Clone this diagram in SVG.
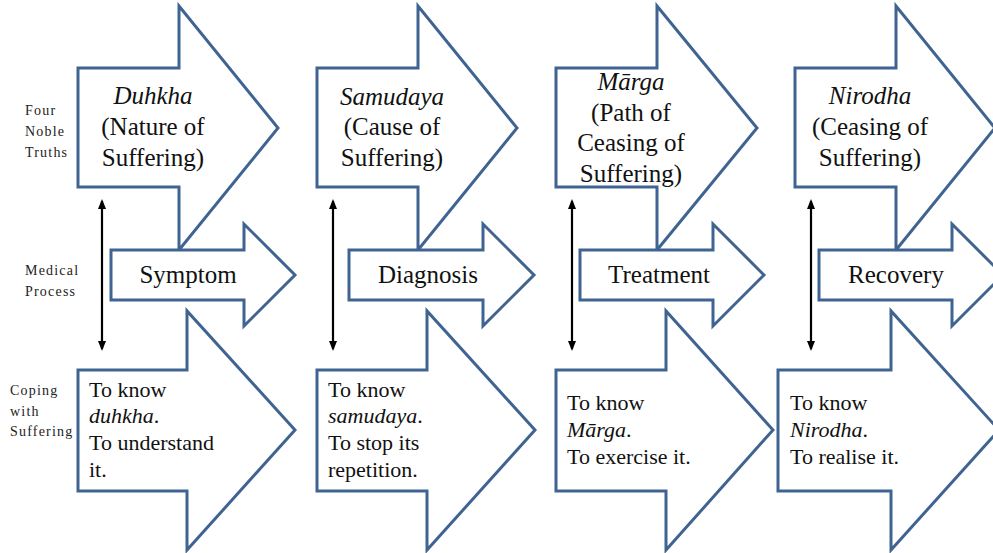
<svg xmlns="http://www.w3.org/2000/svg" width="993" height="553" viewBox="0 0 993 553">
  <style>
    .blk { fill: #ffffff; stroke: #406491; stroke-width: 3; stroke-linejoin: miter; }
    .lnk { stroke: #000000; stroke-width: 2.2; fill: none; }
    .t { font-family: "Liberation Serif", "Times New Roman", serif; fill: #111111; }
    .head { font-size: 25px; text-anchor: middle; }
    .med { font-size: 25px; text-anchor: middle; }
    .cope { font-size: 22px; }
    .side { font-size: 14px; letter-spacing: 1.2px; fill: #222222; }
    .it { font-style: italic; }
  </style>
  <defs>
    <marker id="tip" viewBox="0 0 10 8" refX="8" refY="4" markerWidth="10" markerHeight="8" markerUnits="userSpaceOnUse" orient="auto-start-reverse">
      <path d="M0,0 L10,4 L0,8 Z" fill="#000000"/>
    </marker>
  </defs>

  <!-- row captions -->
  <g id="row-labels" class="t side">
    <text x="25" y="115">Four</text>
    <text x="25" y="136">Noble</text>
    <text x="25" y="157">Truths</text>
    <text x="25" y="275">Medical</text>
    <text x="25" y="296">Process</text>
    <text x="10" y="395">Coping</text>
    <text x="10" y="416">with</text>
    <text x="10" y="436">Suffering</text>
  </g>

  <!-- column 1 -->
  <g id="truth-duhkha">
    <path class="blk" d="M78,68 H179 V6 L278,128 L179,250 V187 H78 Z"/>
    <text class="t head" x="153" y="104"><tspan class="it">Duhkha</tspan></text>
    <text class="t head" x="153" y="135">(Nature of</text>
    <text class="t head" x="153" y="166">Suffering)</text>
  </g>
  <g id="med-symptom">
    <path class="blk" d="M111,250 H244 V224 L295,275 L244,326 V300 H111 Z"/>
    <text class="t med" x="188" y="283">Symptom</text>
  </g>
  <g id="cope-duhkha">
    <path class="blk" d="M78,370 H187 V311 L295,430 L187,550 V491 H78 Z"/>
    <text class="t cope" x="89" y="397">To know</text>
    <text class="t cope" x="89" y="423"><tspan class="it">duhkha</tspan>.</text>
    <text class="t cope" x="89" y="450">To understand</text>
    <text class="t cope" x="89" y="477">it.</text>
  </g>

  <!-- column 2 -->
  <g id="truth-samudaya">
    <path class="blk" d="M317,68 H418 V6 L517,128 L418,250 V187 H317 Z"/>
    <text class="t head" x="392" y="105"><tspan class="it">Samudaya</tspan></text>
    <text class="t head" x="392" y="135">(Cause of</text>
    <text class="t head" x="392" y="166">Suffering)</text>
  </g>
  <g id="med-diagnosis">
    <path class="blk" d="M349,250 H483 V224 L534,275 L483,326 V300 H349 Z"/>
    <text class="t med" x="428" y="283">Diagnosis</text>
  </g>
  <g id="cope-samudaya">
    <path class="blk" d="M317,370 H427 V311 L535,430 L427,550 V491 H317 Z"/>
    <text class="t cope" x="328" y="397">To know</text>
    <text class="t cope" x="328" y="423"><tspan class="it">samudaya</tspan>.</text>
    <text class="t cope" x="328" y="450">To stop its</text>
    <text class="t cope" x="328" y="477">repetition.</text>
  </g>

  <!-- column 3 -->
  <g id="truth-marga">
    <path class="blk" d="M556,68 H657 V6 L757,128 L657,250 V187 H556 Z"/>
    <text class="t head" x="631" y="90"><tspan class="it">Mārga</tspan></text>
    <text class="t head" x="631" y="121">(Path of</text>
    <text class="t head" x="631" y="151">Ceasing of</text>
    <text class="t head" x="631" y="182">Suffering)</text>
  </g>
  <g id="med-treatment">
    <path class="blk" d="M580,250 H713 V224 L764,275 L713,326 V300 H580 Z"/>
    <text class="t med" x="659" y="283">Treatment</text>
  </g>
  <g id="cope-marga">
    <path class="blk" d="M556,370 H666 V311 L773,430 L666,550 V491 H556 Z"/>
    <text class="t cope" x="567" y="410">To know</text>
    <text class="t cope" x="567" y="437"><tspan class="it">Mārga</tspan>.</text>
    <text class="t cope" x="567" y="464">To exercise it.</text>
  </g>

  <!-- column 4 -->
  <g id="truth-nirodha">
    <path class="blk" d="M795,68 H896 V6 L995,128 L896,250 V187 H795 Z"/>
    <text class="t head" x="870" y="104"><tspan class="it">Nirodha</tspan></text>
    <text class="t head" x="870" y="135">(Ceasing of</text>
    <text class="t head" x="870" y="166">Suffering)</text>
  </g>
  <g id="med-recovery">
    <path class="blk" d="M819,250 H952 V224 L1003,275 L952,326 V300 H819 Z"/>
    <text class="t med" x="896" y="283">Recovery</text>
  </g>
  <g id="cope-nirodha">
    <path class="blk" d="M778,370 H891 V311 L999,430 L891,550 V491 H778 Z"/>
    <text class="t cope" x="790" y="410">To know</text>
    <text class="t cope" x="790" y="437"><tspan class="it">Nirodha</tspan>.</text>
    <text class="t cope" x="790" y="464">To realise it.</text>
  </g>

  <!-- two-way links between the rows -->
  <g id="connectors">
    <line class="lnk" x1="102" y1="201" x2="102" y2="349" marker-start="url(#tip)" marker-end="url(#tip)"/>
    <line class="lnk" x1="333" y1="201" x2="333" y2="349" marker-start="url(#tip)" marker-end="url(#tip)"/>
    <line class="lnk" x1="572" y1="201" x2="572" y2="349" marker-start="url(#tip)" marker-end="url(#tip)"/>
    <line class="lnk" x1="811" y1="201" x2="811" y2="349" marker-start="url(#tip)" marker-end="url(#tip)"/>
  </g>
</svg>
